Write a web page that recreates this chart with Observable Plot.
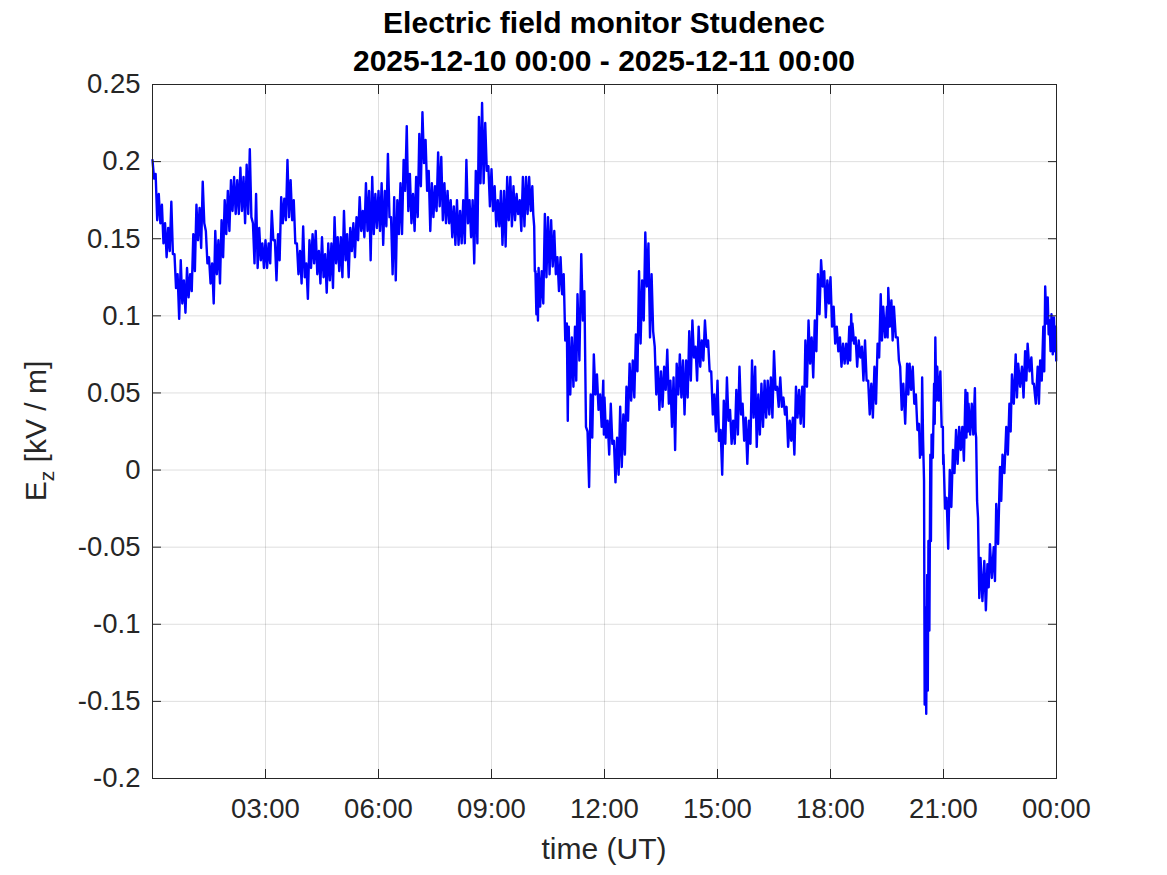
<!DOCTYPE html>
<html><head><meta charset="utf-8">
<script src="https://cdn.jsdelivr.net/npm/d3@7"></script>
<script src="https://cdn.jsdelivr.net/npm/@observablehq/plot@0.6"></script>
<style>
body{margin:0;background:#fff;}
#wrap{position:relative;width:1167px;height:875px;font-family:"Liberation Sans",Arial,Helvetica,sans-serif;}
#wrap svg.ov{position:absolute;left:0;top:0;pointer-events:none;}
#wrap > svg{position:absolute;left:0;top:0;}
</style></head><body><div id="wrap"></div>
<script>
// Sample times (minutes after 2025-12-10 00:00 UT)
const minutes = [
0,5,10,15,20,25,30,35,40,45,50,55,60,65,70,75,80,85,90,95,100,105,110,115,120,125,130,135,140,145,150,155,160,165,170,175,
180,185,190,195,200,205,210,215,220,225,230,235,240,245,250,255,260,265,270,275,280,285,290,295,300,305,310,315,320,325,330,335,340,345,350,355,
360,365,370,375,380,385,390,395,400,405,410,415,420,425,430,435,440,445,450,455,460,465,470,475,480,485,490,495,500,505,510,515,520,525,530,535,
540,545,550,555,560,565,570,575,580,585,590,595,600,605,608,610,613,615,620,625,630,635,640,645,650,655,660,663,668,673,677,683,688,693,698,703,708,713,718,
720,725,730,735,740,745,750,755,760,765,770,775,780,785,790,795,800,805,810,815,820,825,830,835,840,845,850,855,860,865,870,875,880,885,890,895,
900,905,910,915,920,925,930,935,940,945,950,955,960,965,970,975,980,985,990,995,1000,1005,1010,1015,1020,1025,1030,1035,1040,1045,1050,1055,1060,1065,1070,1075,
1080,1085,1090,1095,1100,1105,1110,1113,1115,1120,1125,1130,1135,1140,1145,1150,1155,1160,1164,1170,1172,1177,1181,1187,1191,1196,1202,1206,1211,1216,1221,1224,1226,1229,1231,1234,1236,1239,1241,1245,1247,1250,1255,1259,
1260,1265,1270,1275,1280,1285,1290,1295,1298,1300,1305,1310,1312,1315,1319,1325,1330,1334,1340,1344,1350,1354,1360,1365,1369,1375,1379,1385,1390,1394,1400,1404,1410,1414,1419,1422,1426,1429,1432,1436,1439
];
// Upper envelope of Ez [kV/m] at each sample
const hiValues = [
.201,.192,.179,.172,.160,.157,.174,.140,.127,.136,.123,.131,.127,.153,.172,.170,.187,.155,.138,.134,.155,.149,.162,.175,.181,.188,.190,.188,.196,.190,.198,.208,.160,.179,.157,.147,
.149,.147,.168,.149,.153,.177,.176,.201,.188,.175,.147,.142,.158,.134,.149,.153,.155,.142,.151,.140,.147,.147,.164,.151,.151,.168,.153,.157,.160,.164,.177,.168,.186,.181,.190,.179,
.181,.186,.181,.205,.164,.177,.175,.186,.201,.223,.192,.179,.190,.218,.232,.214,.194,.186,.184,.206,.203,.186,.181,.175,.171,.175,.168,.175,.201,.175,.175,.194,.229,.238,.225,.197,
.195,.184,.175,.181,.181,.190,.190,.184,.179,.175,.190,.190,.190,.184,.158,.129,.127,.131,.129,.166,.164,.162,.155,.138,.138,.127,.095,.093,.086,.093,.114,.140,.116,.025,.049,.075,.062,.049,.058,
.047,.032,.043,.019,.021,.041,.036,.054,.069,.071,.088,.129,.123,.154,.147,.127,.080,.067,.064,.067,.078,.058,.060,.069,.075,.071,.071,.090,.097,.080,.093,.084,.097,.084,.064,.049,
.058,.026,.045,.060,.039,.032,.052,.067,.043,.034,.032,.071,.067,.049,.056,.058,.058,.060,.077,.054,.060,.047,.041,.032,.034,.054,.052,.054,.084,.097,.086,.097,.127,.136,.129,.123,
.125,.106,.093,.086,.082,.082,.093,.101,.095,.086,.084,.080,.084,.058,.056,.067,.082,.114,.106,.106,.118,.110,.106,.086,.067,.056,.069,.069,.067,.049,.030,.021,.060,-.007,-.089,-.068,-.046,.010,.023,.056,.086,.067,.064,.028,
.010,-.018,.000,.013,.026,.028,.028,.052,.050,.043,.043,.053,.021,-.031,-.057,-.059,-.061,-.048,-.050,-.022,.002,.010,.028,.043,.062,.075,.069,.067,.077,.082,.073,.056,.067,.071,.093,.119,.112,.097,.101,.099,.093
];
// Lower envelope of Ez [kV/m] at each sample
const loValues = [
.189,.162,.160,.147,.138,.142,.140,.118,.098,.108,.102,.112,.116,.129,.149,.144,.160,.134,.121,.108,.127,.121,.138,.153,.155,.168,.166,.166,.168,.160,.166,.164,.134,.131,.136,.131,
.131,.134,.149,.123,.136,.160,.162,.164,.162,.147,.127,.121,.125,.111,.131,.134,.127,.121,.125,.115,.123,.118,.134,.129,.125,.136,.125,.142,.138,.149,.155,.151,.155,.136,.153,.157,
.155,.146,.158,.164,.127,.123,.153,.153,.181,.168,.160,.155,.164,.184,.199,.181,.155,.164,.168,.171,.162,.160,.160,.151,.146,.146,.147,.147,.160,.151,.134,.147,.186,.186,.194,.171,
.168,.158,.158,.146,.145,.162,.158,.162,.166,.155,.158,.166,.168,.166,.129,.101,.097,.106,.108,.125,.127,.132,.127,.116,.114,.084,.032,.049,.054,.058,.071,.097,.028,-.011,.021,.049,.039,.028,.023,
.021,.010,.017,-.008,-.003,.002,.010,.032,.045,.047,.064,.082,.097,.119,.086,.090,.049,.039,.041,.052,.043,.028,.013,.049,.047,.036,.047,.058,.073,.058,.067,.071,.080,.064,.036,.025,
.019,-.003,.017,.032,.017,.017,.023,.036,.019,.004,.017,.034,.015,.023,.028,.034,.036,.034,.052,.041,.041,.036,.015,.019,.010,.034,.030,.028,.054,.069,.060,.077,.101,.119,.099,.108,
.093,.082,.077,.067,.069,.069,.071,.084,.082,.067,.073,.058,.058,.036,.034,.043,.073,.084,.086,.086,.093,.084,.086,.071,.039,.030,.049,.052,.043,.026,.008,.010,.019,-.152,-.158,-.143,-.104,-.046,.008,.030,.045,.045,.028,.004,
-.025,-.051,-.024,-.002,.004,.013,.006,.021,.025,.023,.023,.025,-.020,-.083,-.085,-.091,-.076,-.070,-.072,-.048,-.020,-.002,.010,.025,.043,.047,.054,.047,.058,.064,.056,.043,.043,.058,.064,.095,.088,.077,.075,.077,.071
];
const yTicks = [-0.2,-0.15,-0.1,-0.05,0,0.05,0.1,0.15,0.2,0.25];
const xTickHours = [3,6,9,12,15,18,21,24];
const titleLines = ["Electric field monitor Studenec", "2025-12-10 00:00 - 2025-12-11 00:00"];
const xLabel = "time (UT)";

const t0 = Date.UTC(2025, 11, 10);
const toDate = m => new Date(t0 + m * 60000);
const xTickDates = xTickHours.map(h => toDate(h * 60));

const pts = [];
for (let i = 0; i < minutes.length; i++) {
  const next = i + 1 < minutes.length ? minutes[i + 1] : Math.min(minutes[i] + 2, 1440);
  pts.push({t: toDate(minutes[i]), v: hiValues[i]});
  pts.push({t: toDate((minutes[i] + next) / 2), v: loValues[i]});
}

const chart = Plot.plot({
  width: 1167, height: 875,
  marginLeft: 152, marginRight: 111, marginTop: 84, marginBottom: 97,
  style: {fontFamily: "'Liberation Sans', Arial, Helvetica, sans-serif", fontSize: "27.5px", color: "#262626", background: "#fff", overflow: "visible"},
  x: {type: "utc", domain: [toDate(0), toDate(1440)]},
  y: {domain: [-0.2, 0.25]},
  marks: [
    Plot.gridX(xTickDates, {stroke: "#262626", strokeOpacity: 0.15}),
    Plot.gridY(yTicks, {stroke: "#262626", strokeOpacity: 0.15}),
    Plot.line(pts, {x: "t", y: "v", stroke: "#0000ff", strokeWidth: 2.4}),
    Plot.frame({stroke: "#262626", strokeWidth: 1}),
    Plot.axisX(xTickDates, {anchor: "bottom", tickSize: 0, tickPadding: 20, tickFormat: d3.utcFormat("%H:%M"), label: null}),
    Plot.axisX(xTickDates, {anchor: "bottom", tickSize: -9, tickFormat: () => "", label: null}),
    Plot.axisX(xTickDates, {anchor: "top", tickSize: -9, tickFormat: () => "", label: null}),
    Plot.axisY(yTicks, {anchor: "left", tickSize: 0, tickPadding: 12, tickFormat: d => String(d), label: null}),
    Plot.axisY(yTicks, {anchor: "left", tickSize: -9, tickFormat: () => "", label: null}),
    Plot.axisY(yTicks, {anchor: "right", tickSize: -9, tickFormat: () => "", label: null})
  ]
});
const wrap = document.getElementById("wrap");
wrap.appendChild(chart);

// Titles and axis labels as text
const ns = "http://www.w3.org/2000/svg";
const ov = d3.select(wrap).append("svg").attr("class", "ov").attr("width", 1167).attr("height", 875)
  .attr("xmlns", ns).style("font-family", "'Liberation Sans', Arial, Helvetica, sans-serif");
ov.append("text").attr("x", 604).attr("y", 33).attr("text-anchor", "middle").attr("font-size", 30).attr("font-weight", "bold").attr("fill", "#000").text(titleLines[0]);
ov.append("text").attr("x", 604).attr("y", 71).attr("text-anchor", "middle").attr("font-size", 30).attr("font-weight", "bold").attr("fill", "#000").text(titleLines[1]);
ov.append("text").attr("x", 604).attr("y", 859).attr("text-anchor", "middle").attr("font-size", 30).attr("fill", "#262626").text(xLabel);
const yl = ov.append("text").attr("transform", "translate(46,431) rotate(-90)").attr("text-anchor", "middle").attr("font-size", 30).attr("fill", "#262626");
yl.append("tspan").text("E");
yl.append("tspan").attr("font-size", 21).attr("dy", 8).text("z");
yl.append("tspan").attr("dy", -8).text(" [kV / m]");
</script>
</body></html>
